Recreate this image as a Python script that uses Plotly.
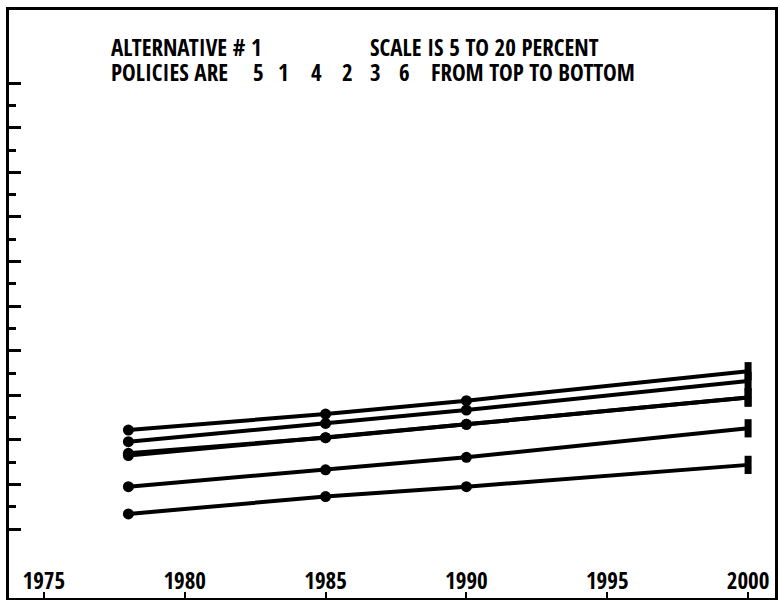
import plotly.graph_objects as go

years = [1978, 1985, 1990, 2000]
policy_order = ["5", "1", "4", "2", "3", "6"]
policy_5 = [8.72, 9.08, 9.38, 10.04]
policy_1 = [8.46, 8.87, 9.17, 9.82]
policy_4 = [8.20, 8.55, 8.85, 9.45]
policy_2 = [8.15, 8.55, 8.85, 9.45]
policy_3 = [7.45, 7.83, 8.11, 8.76]
policy_6 = [6.84, 7.23, 7.45, 7.94]
series = [policy_5, policy_1, policy_4, policy_2, policy_3, policy_6]
x_ticks = [1975, 1980, 1985, 1990, 1995, 2000]
y_major = [6.5, 7.5, 8.5, 9.5, 10.5, 11.5, 12.5, 13.5, 14.5, 15.5, 16.5]
y_minor = [7.0, 8.0, 9.0, 10.0, 11.0, 12.0, 13.0, 14.0, 15.0, 16.0]

FONT = "Open Sans Condensed, Roboto Condensed, Liberation Sans, sans-serif"

fig = go.Figure()
for name, vals in zip(policy_order, series):
    fig.add_trace(go.Scatter(
        x=years, y=vals, mode="lines+markers", name="Policy " + name,
        line=dict(color="#000000", width=4),
        marker=dict(color="#000000", opacity=1,
                    symbol=["circle", "circle", "circle", "line-ns"],
                    size=[11, 11, 11, 13],
                    line=dict(color="#000000", width=[0, 0, 0, 7])),
        showlegend=False,
    ))

W, H = 780, 600
L, R, T, B = 9, 2, 10, 2
pw = W - L - R
ph = H - T - B

def px(x):
    return (x - L) / pw

def py(y):
    return 1 - (y - T) / ph

ann = []
def add(text, x, y, anchor="left"):
    ann.append(dict(text="<b>" + text + "</b>", x=px(x), y=py(y),
                    xref="paper", yref="paper", height=22,
                    xanchor=anchor, yanchor="middle", showarrow=False,
                    font=dict(family=FONT, size=23, color="black")))

add("ALTERNATIVE # 1", 109, 47)
add("SCALE IS 5 TO 20 PERCENT", 369, 47)
add("POLICIES ARE", 109, 72)
digit_x = [259, 285, 318, 349, 377, 406]
for d, dx in zip(policy_order, digit_x):
    add(d, dx, 72, anchor="center")
add("FROM TOP TO BOTTOM", 431, 72)

fig.update_layout(
    width=W, height=H,
    margin=dict(l=L, r=R, t=T, b=B),
    paper_bgcolor="white", plot_bgcolor="white",
    annotations=ann,
    xaxis=dict(range=[1973.762, 2000.955], tickvals=x_ticks,
               ticktext=["<b>%d</b>" % v for v in x_ticks],
               ticks="inside", ticklen=6, tickwidth=2, tickcolor="black",
               ticklabelposition="inside",
               tickfont=dict(family=FONT, size=23, color="black"),
               showline=True, linecolor="black", linewidth=3, mirror=True,
               showgrid=False, zeroline=False),
    yaxis=dict(range=[4.955, 18.139], tickvals=y_major,
               ticks="inside", ticklen=12, tickwidth=3, tickcolor="black",
               showticklabels=False,
               minor=dict(tickvals=y_minor, ticks="inside", ticklen=7,
                          tickwidth=3, tickcolor="black", showgrid=False),
               showline=True, linecolor="black", linewidth=3, mirror=True,
               showgrid=False, zeroline=False),
)

fig.write_html("out.html", config={"displayModeBar": False},
               post_script="document.body.style.margin='0';document.body.style.overflow='hidden';")
